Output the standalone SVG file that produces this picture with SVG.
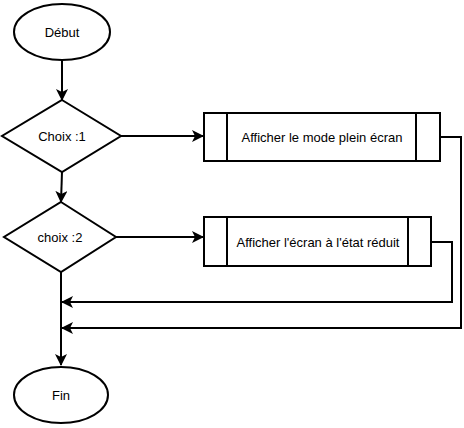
<svg xmlns="http://www.w3.org/2000/svg" width="464" height="428" viewBox="0 0 464 428">
<style>
.s{fill:#fff;stroke:#000;stroke-width:2}
.l{fill:none;stroke:#000;stroke-width:2}
.t{font-family:"Liberation Sans",Arial,sans-serif;font-size:13px;fill:#000;text-anchor:middle;dominant-baseline:central}
</style>
<defs>
<marker id="a" markerWidth="12" markerHeight="12" viewBox="0 0 12 12" refX="11" refY="6" orient="auto" markerUnits="userSpaceOnUse">
<path d="M0,0 L12,6 L0,12 L3,6 Z" fill="#000"/>
</marker>
</defs>
<rect width="464" height="428" fill="#fff"/>
<g id="connectors">
<line class="l" x1="62" y1="60" x2="62" y2="100" marker-end="url(#a)"/>
<line class="l" x1="62" y1="172" x2="61" y2="202" marker-end="url(#a)"/>
<line class="l" x1="121" y1="136" x2="203" y2="136" marker-end="url(#a)"/>
<line class="l" x1="116" y1="237" x2="203" y2="237" marker-end="url(#a)"/>
<line class="l" x1="61" y1="272" x2="61" y2="365" marker-end="url(#a)"/>
<polyline class="l" points="440,137 461,137 461,328 62,328" marker-end="url(#a)"/>
<polyline class="l" points="431,242 452,242 452,302 62,302" marker-end="url(#a)"/>
</g>
<g id="debut">
<ellipse class="s" cx="62" cy="32" rx="48" ry="28"/>
<text class="t" x="62" y="32">Début</text>
</g>
<g id="choix1">
<polygon class="s" points="62,100 121,136 62,172 2,136"/>
<text class="t" x="62" y="136">Choix :1</text>
</g>
<g id="choix2">
<polygon class="s" points="61,202 116,237 61,272 4,237"/>
<text class="t" x="60" y="237">choix :2</text>
</g>
<g id="box1">
<rect class="s" x="204" y="113" width="236" height="48"/>
<line class="l" x1="227" y1="113" x2="227" y2="161"/>
<line class="l" x1="416" y1="113" x2="416" y2="161"/>
<text class="t" x="322" y="137">Afficher le mode plein écran</text>
</g>
<g id="box2">
<rect class="s" x="204" y="217" width="227" height="49"/>
<line class="l" x1="227" y1="217" x2="227" y2="266"/>
<line class="l" x1="408" y1="217" x2="408" y2="266"/>
<text class="t" x="318" y="242">Afficher l'écran à l'état réduit</text>
</g>
<g id="fin">
<ellipse class="s" cx="61" cy="395" rx="47" ry="28"/>
<text class="t" x="61" y="395">Fin</text>
</g>
</svg>
